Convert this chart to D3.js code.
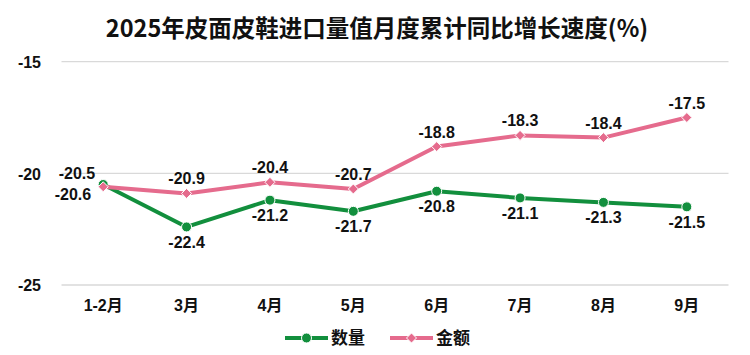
<!DOCTYPE html>
<html><head><meta charset="utf-8">
<script src="https://cdn.jsdelivr.net/npm/d3@7/dist/d3.min.js"></script>
<style>
body{margin:0;background:#fff;}
svg{display:block;font-family:"Liberation Sans","Noto Sans CJK SC",sans-serif;}
</style></head>
<body><svg id="chart" width="750" height="355"></svg>
<script>
const title = "2025年皮面皮鞋进口量值月度累计同比增长速度(%)";
const categories = ["1-2月","3月","4月","5月","6月","7月","8月","9月"];
const qtyValues = [-20.5,-22.4,-21.2,-21.7,-20.8,-21.1,-21.3,-21.5];
const amtValues = [-20.6,-20.9,-20.4,-20.7,-18.8,-18.3,-18.4,-17.5];
const yTicks = [-15,-20,-25];
const seriesNames = ["数量","金额"];

const green = "#128f3d", pink = "#e56b8d";
const svg = d3.select("#chart");
const x = d3.scaleBand().domain(categories).range([61.5, 728.5]);
const y = d3.scaleLinear().domain([-25,-15]).range([285, 61.7]);
const cx = d => x(d) + x.bandwidth()/2;
const fmt1 = d => d3.format(".1f")(d).replace("\u2212","-");
const fmt0 = d => d3.format("d")(d).replace("\u2212","-");

svg.append("text").attr("x",377).attr("y",37).attr("text-anchor","middle")
  .attr("font-family","'Noto Sans CJK SC',sans-serif").attr("font-weight","bold")
  .attr("font-size",23.5).attr("fill","#111").text(title);

// grid
svg.append("g").selectAll("line").data(yTicks).join("line")
  .attr("x1",61.5).attr("x2",728.5).attr("y1",d=>y(d)).attr("y2",d=>y(d))
  .attr("stroke","#d9d9d9").attr("stroke-width",1.3);

// y axis labels
const yAxis = d3.axisLeft(y).tickValues(yTicks).tickSize(0).tickPadding(0).tickFormat(fmt0);
const ga = svg.append("g").attr("transform","translate(41,0)").call(yAxis);
ga.select(".domain").remove();
ga.selectAll("text").attr("font-size",16).attr("font-weight","bold").attr("fill","#111")
  .attr("font-family","'Liberation Sans',sans-serif").attr("dy","0.36em");

// x axis labels
const xAxis = d3.axisBottom(x).tickSize(0).tickPadding(0);
const gx = svg.append("g").attr("transform","translate(0,297)").call(xAxis);
gx.select(".domain").remove();
gx.selectAll("text").attr("font-size",16).attr("font-weight","bold").attr("fill","#111")
  .attr("font-family","'Liberation Sans','Noto Sans CJK SC',sans-serif").attr("dy","0.9em");

const line = d3.line().x((d,i)=>cx(categories[i])).y(d=>y(d));
function diamond(s){ return `M0,${-s}L${s},0L0,${s}L${-s},0Z`; }

// quantity series
svg.append("path").datum(qtyValues).attr("d",line).attr("fill","none")
  .attr("stroke",green).attr("stroke-width",4).attr("stroke-linejoin","round");
svg.append("g").selectAll("circle").data(qtyValues).join("circle")
  .attr("cx",(d,i)=>cx(categories[i])).attr("cy",d=>y(d)).attr("r",5)
  .attr("fill",green).attr("stroke","#fff").attr("stroke-width",1);

// amount series
svg.append("path").datum(amtValues).attr("d",line).attr("fill","none")
  .attr("stroke",pink).attr("stroke-width",4).attr("stroke-linejoin","round");
svg.append("g").selectAll("path").data(amtValues).join("path")
  .attr("transform",(d,i)=>`translate(${cx(categories[i])},${y(d)})`)
  .attr("d",diamond(5)).attr("fill",pink).attr("stroke","#fff").attr("stroke-width",1);

// labels
function addLabels(vals, pos){
  svg.append("g").selectAll("text").data(vals).join("text")
    .attr("x",(d,i)=>pos(d,i).x).attr("y",(d,i)=>pos(d,i).y)
    .attr("text-anchor",(d,i)=>pos(d,i).a)
    .attr("font-size",16).attr("font-weight","bold").attr("fill","#111")
    .attr("font-family","'Liberation Sans',sans-serif")
    .text(fmt1);
}
addLabels(qtyValues,(d,i)=> i===0 ? {x:cx(categories[i])-8,y:y(d)-6,a:"end"} : {x:cx(categories[i]),y:y(d)+21,a:"middle"});
addLabels(amtValues,(d,i)=> i===0 ? {x:cx(categories[i])-12,y:y(d)+13,a:"end"} : {x:cx(categories[i]),y:y(d)-9,a:"middle"});

// legend
const leg = svg.append("g");
const legItems = [{name:seriesNames[0],c:green,x0:285,shape:"c"},{name:seriesNames[1],c:pink,x0:390,shape:"d"}];
legItems.forEach(it=>{
  leg.append("line").attr("x1",it.x0).attr("x2",it.x0+43).attr("y1",338).attr("y2",338)
    .attr("stroke",it.c).attr("stroke-width",4);
  if(it.shape==="c") leg.append("circle").attr("cx",it.x0+21.5).attr("cy",338).attr("r",5)
    .attr("fill",it.c).attr("stroke","#fff").attr("stroke-width",1);
  else leg.append("path").attr("transform",`translate(${it.x0+21.5},338)`).attr("d",diamond(5))
    .attr("fill",it.c).attr("stroke","#fff").attr("stroke-width",1);
  leg.append("text").attr("x",it.x0+46).attr("y",344).attr("font-size",17).attr("font-weight","bold")
    .attr("font-family","'Noto Sans CJK SC',sans-serif").attr("fill","#111").text(it.name);
});
</script></body></html>
